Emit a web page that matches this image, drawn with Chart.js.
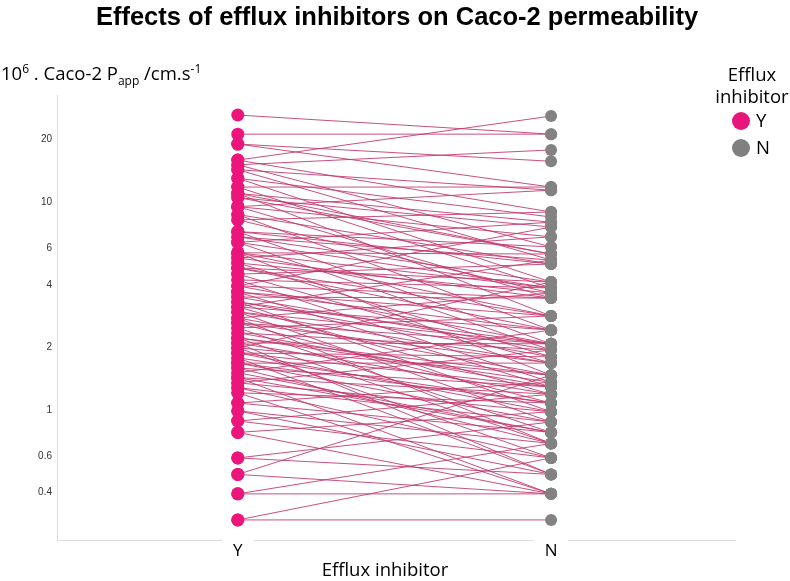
<!DOCTYPE html>
<html>
<head>
<meta charset="utf-8">
<script src="https://cdn.jsdelivr.net/npm/chart.js@4.4.1/dist/chart.umd.min.js"></script>
<style>
  html, body { margin:0; padding:0; background:#fff; }
  #wrap { position:relative; width:790px; height:581px; overflow:hidden; font-family:"Liberation Sans", Arial, sans-serif; }
  #c { position:absolute; left:0; top:0; }
  .t { position:absolute; white-space:nowrap; color:#000; }
  #title { left:0; width:794px; top:3px; line-height:26px; text-align:center; font-weight:bold; font-size:25.5px; }
  #ytitle { left:1px; top:60px; font-family:"Open Sans", sans-serif; font-size:18.5px; }
  #ytitle sup, #ytitle sub { font-size:12px; }
  #xtitle { left:0; width:770px; text-align:center; top:556px; font-family:"Open Sans", sans-serif; font-size:18.5px; }
  #leg { left:712px; top:63px; width:80px; text-align:center; font-family:"Open Sans", sans-serif; font-size:18.5px; line-height:22px; }
  .li { position:absolute; font-family:"Open Sans", sans-serif; font-size:18.5px; }
  .dot { position:absolute; width:18px; height:18px; border-radius:9px; }
</style>
</head>
<body>
<div id="wrap">
  <canvas id="c" width="790" height="581"></canvas>
  <div class="t" id="title">Effects of efflux inhibitors on Caco-2 permeability</div>
  <div class="t" id="ytitle">10<sup>6</sup> . Caco-2 P<sub>app</sub> /cm.s<sup>-1</sup></div>
  <div class="t" id="xtitle">Efflux inhibitor</div>
  <div class="t" id="leg">Efflux<br>inhibitor</div>
  <div class="dot" style="left:732px;top:112px;background:#e8157b"></div>
  <div class="li" style="left:756px;top:107px">Y</div>
  <div class="dot" style="left:732px;top:139px;background:#808080"></div>
  <div class="li" style="left:756px;top:134px">N</div>
</div>
<script>
const categories = ['Y', 'N'];
const valuesY = [26.2,21.2,19.0,19.0,15.9,15.9,15.1,15.1,14.3,14.3,13.0,13.0,11.8,11.8,11.0,11.0,10.5,10.5,9.5,9.5,9.5,8.7,8.7,8.2,8.2,7.2,7.2,6.8,6.8,6.4,6.4,5.7,5.7,5.7,5.38,5.38,5.09,5.09,4.82,4.82,4.5,4.5,4.22,4.22,3.95,3.95,3.69,3.69,3.49,3.49,3.31,3.31,3.13,3.13,3.13,2.96,2.96,2.77,2.77,2.62,2.62,2.48,2.48,2.35,2.35,2.22,2.22,2.10,2.10,1.99,1.99,1.99,1.88,1.88,1.78,1.78,1.68,1.68,1.59,1.59,1.51,1.51,1.43,1.43,1.35,1.35,1.28,1.28,1.21,1.21,1.08,1.08,0.99,0.99,0.885,0.885,0.78,0.78,0.588,0.588,0.49,0.49,0.395,0.395,0.296,0.296,4.82,3.95,2.96,2.62,2.22,1.88,1.68,1.43,3.69,5.7,7.2,11.0,2.77,2.10,6.4,3.31];
const valuesN = [21.2,21.2,15.7,11.8,25.9,8.95,17.8,6.08,11.4,5.26,8.47,4.12,11.8,3.86,8.0,2.83,7.58,5.62,6.8,3.45,11.4,5.03,2.42,8.95,3.65,6.08,2.08,5.26,4.12,3.86,1.94,5.62,2.83,1.47,3.45,6.8,3.65,1.80,2.42,4.12,5.03,1.68,3.86,1.36,2.08,7.58,2.83,1.29,3.45,1.94,1.80,0.98,2.42,1.19,5.26,2.08,0.875,1.47,3.65,1.68,1.08,2.83,0.78,1.94,1.29,1.36,0.69,2.08,1.19,1.47,0.588,4.12,1.80,0.98,1.08,0.49,1.68,0.875,1.29,0.69,2.42,0.78,1.19,0.395,0.98,1.94,0.875,0.588,1.08,0.395,0.78,1.36,0.69,0.49,0.588,1.19,0.395,0.98,0.49,0.875,0.395,1.47,0.395,0.69,0.588,0.296,2.83,3.45,1.68,2.08,1.47,1.29,1.08,0.78,2.42,3.86,5.03,5.62,0.69,0.49,8.0,2.08];
const yTickValues = [0.4, 0.6, 1, 2, 4, 6, 10, 20];

const pink = '#ec157c';
const gray = '#828282';
const lineColor = 'rgba(192,56,110,0.88)';

const datasets = [];
for (let i = 0; i < valuesY.length; i++) {
  datasets.push({
    data: [{x: 0, y: valuesY[i]}, {x: 1, y: valuesN[i]}],
    borderColor: lineColor,
    borderWidth: 1,
    pointRadius: 0,
    fill: false,
    order: 2
  });
}
datasets.push({
  data: valuesY.map(v => ({x: 0, y: v})),
  showLine: false, pointRadius: 6.5, pointBackgroundColor: pink, pointBorderWidth: 0,
  borderColor: pink, order: 0
});
datasets.push({
  data: valuesN.map(v => ({x: 1, y: v})),
  showLine: false, pointRadius: 6, pointBackgroundColor: gray, pointBorderWidth: 0,
  borderColor: gray, order: 0
});

new Chart(document.getElementById('c'), {
  type: 'line',
  data: { datasets },
  options: {
    responsive: false,
    animation: false,
    events: [],
    layout: { padding: { left: 0, top: 95, right: 55, bottom: 0 } },
    plugins: { legend: { display: false }, tooltip: { enabled: false } },
    scales: {
      x: {
        type: 'linear',
        min: -0.577, max: 1.587,
        afterBuildTicks: s => { s.ticks = [{value: 0}, {value: 1}]; },
        afterFit: s => { s.height = 41; },
        grid: { display: false, drawTicks: false },
        border: { display: true, color: '#dcdcdc', width: 1 },
        ticks: {
          padding: 1,
          color: '#000',
          font: { family: '"Open Sans", sans-serif', size: 17 },
          showLabelBackdrop: true,
          backdropColor: '#ffffff',
          backdropPadding: { left: 11, right: 11, top: 4, bottom: 0 },
          callback: v => categories[v]
        }
      },
      y: {
        type: 'logarithmic',
        min: 0.237, max: 32.7,
        afterBuildTicks: s => { s.ticks = yTickValues.map(v => ({value: v})); },
        afterFit: s => { s.width = 57; },
        grid: { display: false, drawTicks: false },
        border: { display: true, color: '#dcdcdc', width: 1 },
        ticks: {
          padding: 5,
          color: '#333',
          font: { family: '"Liberation Sans", Arial, sans-serif', size: 10 },
          callback: v => String(v)
        }
      }
    }
  }
});
</script>
</body>
</html>
